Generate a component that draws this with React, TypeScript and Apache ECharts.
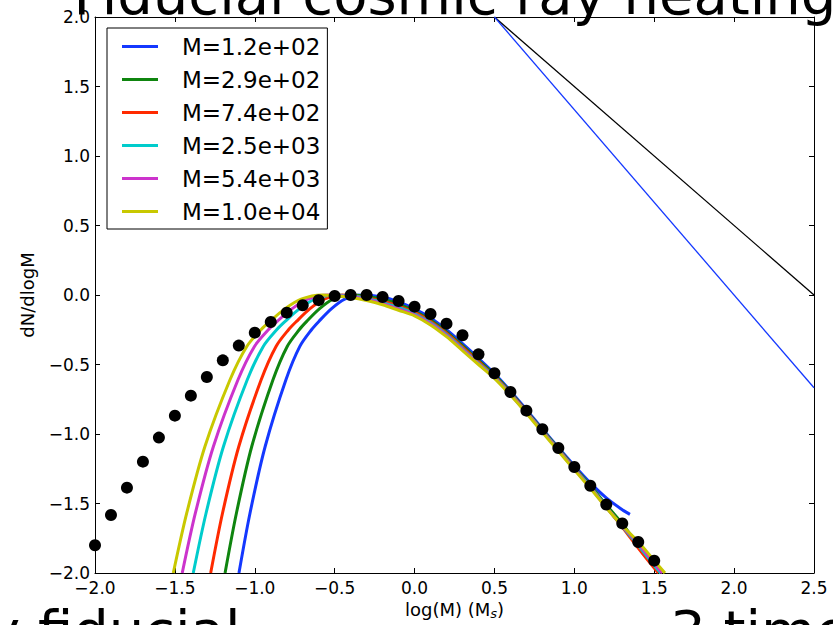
import React, { useEffect, useRef } from "react";
import * as echarts from "echarts";

const FONT = "DejaVu Sans";

const legendNames = ["M=1.2e+02", "M=2.9e+02", "M=7.4e+02", "M=2.5e+03", "M=5.4e+03", "M=1.0e+04"];
const curveColors = ["#1438ff", "#0f850f", "#ff2a00", "#00cccc", "#cc33cc", "#c8c800"];

const curveBlue: [number, number][] = [[-1.099,-2.0],[-1.030,-1.57],[-0.935,-1.09],[-0.805,-0.61],[-0.718,-0.37],[-0.645,-0.25],[-0.599,-0.19],[-0.521,-0.10],[-0.437,-0.03],[-0.33,0.0],[-0.2,-0.015],[-0.1,-0.05],[0.0,-0.10],[0.1,-0.165],[0.2,-0.25],[0.3,-0.35],[0.4,-0.455],[0.5,-0.565],[0.6,-0.69],[0.7,-0.825],[0.8,-0.962],[0.9,-1.097],[1.0,-1.228],[1.1,-1.352],[1.2,-1.46],[1.3,-1.545],[1.348,-1.578]];
const curveGreen: [number, number][] = [[-1.186,-2.0],[-1.115,-1.57],[-1.019,-1.09],[-0.886,-0.61],[-0.797,-0.37],[-0.722,-0.25],[-0.675,-0.19],[-0.596,-0.10],[-0.510,-0.03],[-0.40,0.0],[-0.3,-0.01],[-0.2,-0.03],[-0.1,-0.065],[0.0,-0.115],[0.1,-0.18],[0.2,-0.265],[0.3,-0.365],[0.4,-0.47],[0.5,-0.575],[0.6,-0.70],[0.7,-0.835],[0.8,-0.97],[0.9,-1.105],[1.0,-1.24],[1.1,-1.37],[1.2,-1.51],[1.3,-1.645],[1.4,-1.80],[1.5,-1.945],[1.54,-2.0]];
const curveRed: [number, number][] = [[-1.276,-2.0],[-1.202,-1.57],[-1.100,-1.09],[-0.960,-0.61],[-0.867,-0.37],[-0.789,-0.25],[-0.739,-0.19],[-0.656,-0.10],[-0.566,-0.03],[-0.45,0.0],[-0.4,-0.003],[-0.3,-0.02],[-0.2,-0.045],[-0.1,-0.08],[0.0,-0.125],[0.1,-0.19],[0.2,-0.275],[0.3,-0.375],[0.4,-0.48],[0.5,-0.585],[0.6,-0.705],[0.7,-0.84],[0.8,-0.975],[0.9,-1.11],[1.0,-1.245],[1.1,-1.38],[1.2,-1.525],[1.3,-1.67],[1.4,-1.82],[1.5,-1.965],[1.526,-2.0]];
const curveCyan: [number, number][] = [[-1.385,-2.0],[-1.305,-1.57],[-1.196,-1.09],[-1.047,-0.61],[-0.947,-0.37],[-0.863,-0.25],[-0.810,-0.19],[-0.721,-0.10],[-0.624,-0.03],[-0.50,0.0],[-0.4,-0.008],[-0.3,-0.025],[-0.2,-0.055],[-0.1,-0.09],[0.0,-0.135],[0.1,-0.20],[0.2,-0.285],[0.3,-0.385],[0.4,-0.49],[0.5,-0.59],[0.6,-0.71],[0.7,-0.843],[0.8,-0.978],[0.9,-1.113],[1.0,-1.25],[1.1,-1.38],[1.2,-1.525],[1.3,-1.665],[1.4,-1.80],[1.5,-1.945],[1.54,-2.0]];
const curveMagenta: [number, number][] = [[-1.454,-2.0],[-1.372,-1.57],[-1.259,-1.09],[-1.105,-0.61],[-1.002,-0.37],[-0.915,-0.25],[-0.860,-0.19],[-0.768,-0.10],[-0.668,-0.03],[-0.54,0.0],[-0.4,-0.012],[-0.3,-0.032],[-0.2,-0.062],[-0.1,-0.10],[0.0,-0.143],[0.1,-0.207],[0.2,-0.292],[0.3,-0.392],[0.4,-0.495],[0.5,-0.595],[0.6,-0.715],[0.7,-0.846],[0.8,-0.982],[0.9,-1.117],[1.0,-1.254],[1.1,-1.385],[1.2,-1.527],[1.3,-1.662],[1.4,-1.79],[1.5,-1.93],[1.55,-2.0]];
const curveYellow: [number, number][] = [[-1.51,-2.0],[-1.426,-1.57],[-1.312,-1.09],[-1.155,-0.61],[-1.050,-0.37],[-0.961,-0.25],[-0.905,-0.19],[-0.812,-0.10],[-0.710,-0.03],[-0.58,0.0],[-0.5,-0.005],[-0.4,-0.018],[-0.3,-0.04],[-0.2,-0.07],[-0.1,-0.11],[0.0,-0.15],[0.1,-0.215],[0.2,-0.30],[0.3,-0.40],[0.4,-0.50],[0.5,-0.60],[0.6,-0.72],[0.7,-0.85],[0.8,-0.988],[0.9,-1.122],[1.0,-1.258],[1.1,-1.39],[1.2,-1.53],[1.3,-1.66],[1.4,-1.775],[1.5,-1.91],[1.567,-2.0]];

const observedDots: [number, number][] = [[-2.0,-1.80],[-1.9,-1.583],[-1.8,-1.386],[-1.7,-1.199],[-1.6,-1.026],[-1.5,-0.868],[-1.4,-0.724],[-1.3,-0.590],[-1.2,-0.470],[-1.1,-0.364],[-1.0,-0.271],[-0.9,-0.194],[-0.8,-0.127],[-0.7,-0.074],[-0.6,-0.037],[-0.5,-0.007],[-0.4,0.0],[-0.3,0.0],[-0.2,-0.014],[-0.1,-0.043],[0.0,-0.084],[0.1,-0.137],[0.2,-0.206],[0.3,-0.290],[0.4,-0.427],[0.5,-0.563],[0.6,-0.698],[0.7,-0.832],[0.8,-0.966],[0.9,-1.101],[1.0,-1.237],[1.1,-1.372],[1.2,-1.508],[1.3,-1.643],[1.4,-1.777],[1.5,-1.911]];

const blackSlope: [number, number][] = [[0.5, 2.0], [2.5, 0.0]];
const blueSlope: [number, number][] = [[0.5, 2.0], [2.5, -0.667]];

const titleText = "Fiducial cosmic ray heating";
const lowerLeftText = "y fiducial";
const lowerRightText = "3 times";

const curves = [curveBlue, curveGreen, curveRed, curveCyan, curveMagenta, curveYellow];

const fmt = (v: number) => v.toFixed(1).replace("-", "\u2212");

export default function App() {
  const ref = useRef<HTMLDivElement>(null);
  useEffect(() => {
    if (!ref.current) return;
    const chart = echarts.init(ref.current, null, { renderer: "svg" });
    const axisCommon = {
      type: "value",
      splitLine: { show: false },
      axisLine: { show: true, onZero: false, lineStyle: { color: "#000", width: 1 } },
      axisTick: { show: true, inside: true, length: 5, lineStyle: { color: "#000", width: 1 } },
    };
    const series: any[] = curves.map((c, i) => ({
      name: legendNames[i],
      type: "line",
      data: c,
      symbol: "none",
      smooth: 0.3,
      lineStyle: { color: curveColors[i], width: 3 },
      itemStyle: { color: curveColors[i] },
      z: 2 + i,
    }));
    series.push({
      name: "slope1",
      type: "line",
      data: blackSlope,
      symbol: "none",
      lineStyle: { color: "#000", width: 1.3 },
      z: 2,
    });
    series.push({
      name: "slope2",
      type: "line",
      data: blueSlope,
      symbol: "none",
      lineStyle: { color: curveColors[0], width: 1.3 },
      z: 2,
    });
    series.push({
      name: "data",
      type: "scatter",
      data: observedDots,
      symbol: "circle",
      symbolSize: 12,
      itemStyle: { color: "#000", opacity: 1 },
      z: 10,
    });
    chart.setOption({
      animation: false,
      backgroundColor: "#fff",
      textStyle: { fontFamily: FONT },
      grid: { left: 95, right: 19, top: 17, bottom: 52, containLabel: false, outerBoundsMode: "none" },
      xAxis: [
        {
          ...axisCommon,
          min: -2,
          max: 2.5,
          interval: 0.5,
          position: "bottom",
          axisLabel: { show: true, fontSize: 17, color: "#000", fontFamily: FONT, margin: 6, formatter: fmt },
          name: "{a|log(M) (M}{s|s}{a|)}",
          nameLocation: "middle",
          nameGap: 25,
          nameTextStyle: {
            rich: {
              a: { fontSize: 18, fontFamily: FONT, color: "#000" },
              s: { fontSize: 13, fontFamily: FONT, fontStyle: "italic", color: "#000", verticalAlign: "bottom", padding: [8, 0, 0, 0] },
            },
          },
        },
        {
          ...axisCommon,
          min: -2,
          max: 2.5,
          interval: 0.5,
          position: "top",
          axisLabel: { show: false },
        },
      ],
      yAxis: [
        {
          ...axisCommon,
          min: -2,
          max: 2,
          interval: 0.5,
          position: "left",
          axisLabel: { show: true, fontSize: 17, color: "#000", fontFamily: FONT, margin: 5, formatter: fmt },
          name: "dN/dlogM",
          nameLocation: "middle",
          nameGap: 59,
          nameTextStyle: { fontSize: 18, fontFamily: FONT, color: "#000" },
        },
        {
          ...axisCommon,
          min: -2,
          max: 2,
          interval: 0.5,
          position: "right",
          axisLabel: { show: false },
        },
      ],
      legend: {
        data: legendNames,
        orient: "vertical",
        left: 107,
        top: 28,
        icon: "rect",
        itemWidth: 36,
        itemHeight: 3,
        itemGap: 10,
        padding: [7, 7, 6, 15],
        borderColor: "#000",
        borderWidth: 1,
        backgroundColor: "#fff",
        textStyle: { fontSize: 23, fontFamily: FONT, color: "#000", padding: [0, 0, 0, 19] },
        z: 20,
      },
      graphic: [
        {
          type: "text",
          x: 455,
          y: -6,
          style: { text: titleText, font: `56px "${FONT}"`, fill: "#000", textAlign: "center", textVerticalAlign: "middle" },
          z: 30,
        },
        {
          type: "text",
          x: -13,
          y: 630,
          style: { text: lowerLeftText, font: `56px "${FONT}"`, fill: "#000", textAlign: "left", textVerticalAlign: "middle" },
          z: 30,
        },
        {
          type: "text",
          x: 670,
          y: 630,
          style: { text: lowerRightText, font: `56px "${FONT}"`, fill: "#000", textAlign: "left", textVerticalAlign: "middle" },
          z: 30,
        },
      ],
      series,
    });
    return () => chart.dispose();
  }, []);
  return <div ref={ref} style={{ width: 833, height: 625, position: "fixed", left: 0, top: 0 }} />;
}
